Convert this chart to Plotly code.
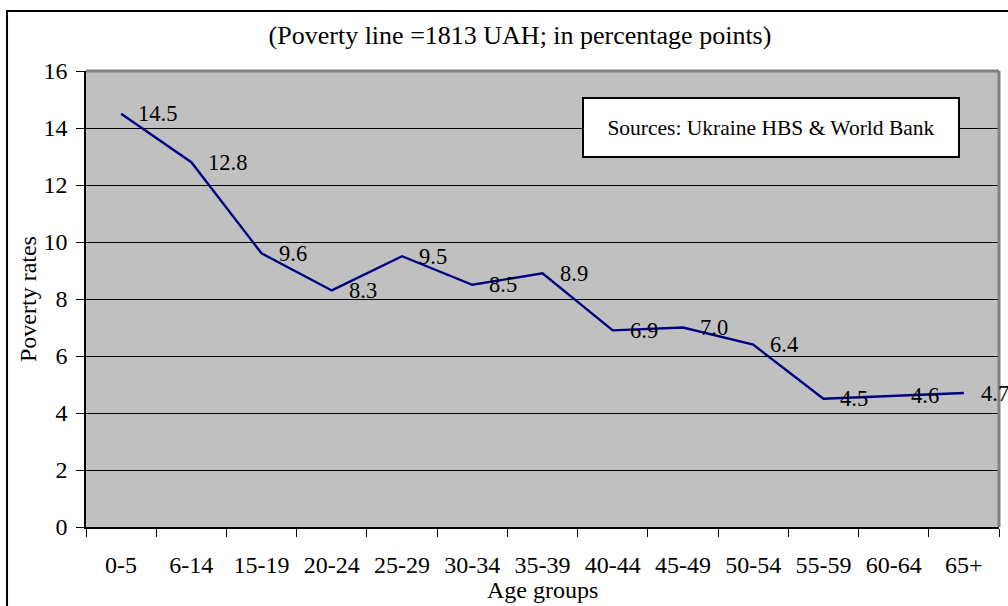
import plotly.graph_objects as go

age_groups = ["0-5", "6-14", "15-19", "20-24", "25-29", "30-34", "35-39",
              "40-44", "45-49", "50-54", "55-59", "60-64", "65+"]
poverty_rates = [14.5, 12.8, 9.6, 8.3, 9.5, 8.5, 8.9, 6.9, 7.0, 6.4, 4.5, 4.6, 4.7]

FONT = "Liberation Serif"
FS = 24

fig = go.Figure()

fig.add_trace(
    go.Scatter(
        x=age_groups,
        y=poverty_rates,
        mode="lines",
        line=dict(color="#000080", width=2.4),
        showlegend=False,
        hoverinfo="skip",
    )
)

# value labels, to the right of each point
for g, v in zip(age_groups, poverty_rates):
    fig.add_annotation(
        x=g, y=v, text=f"{v:.1f}", showarrow=False,
        xanchor="left", yanchor="middle", xshift=15,
        font=dict(family=FONT, size=22.5, color="black"),
    )

# sources box
fig.add_annotation(
    xref="paper", yref="paper", x=0.957, y=0.943,
    xanchor="right", yanchor="top",
    text="Sources: Ukraine HBS & World Bank",
    showarrow=False, align="center",
    bgcolor="white", bordercolor="black", borderwidth=2,
    borderpad=0, width=374, height=57, valign="middle",
    font=dict(family=FONT, size=21.5, color="black"),
)

# axis titles
fig.add_annotation(
    xref="paper", yref="paper", x=-0.0635, y=0.5,
    xanchor="center", yanchor="middle", textangle=-90,
    text="Poverty rates", showarrow=False,
    font=dict(family=FONT, size=FS, color="black"),
)
fig.add_annotation(
    xref="paper", yref="paper", x=0.5, y=-0.138,
    xanchor="center", yanchor="middle",
    text="Age groups", showarrow=False,
    font=dict(family=FONT, size=FS, color="black"),
)

# outer chart frame (left and top edges)
fig.add_shape(
    type="rect", xref="paper", yref="paper",
    x0=-0.0865, x1=1.02, y0=-0.2, y1=1.1316,
    line=dict(color="black", width=2), layer="below",
)

fig.update_layout(
    width=1008, height=606,
    paper_bgcolor="white",
    plot_bgcolor="#c0c0c0",
    margin=dict(l=86, r=9, t=71, b=79),
    font=dict(family=FONT, size=FS, color="black"),
    title=dict(
        text="(Poverty line =1813 UAH; in percentage points)",
        x=520 / 1008, xref="container", xanchor="center",
        y=1 - 35 / 606, yref="container", yanchor="middle",
        font=dict(family=FONT, size=26),
    ),
    xaxis=dict(
        type="category",
        range=[-0.5, len(age_groups) - 0.5],
        automargin=False,
        tickson="boundaries",
        ticks="outside", ticklen=8, tickcolor="black",
        ticklabelstandoff=15,
        showgrid=False, zeroline=False,
        showline=True, linecolor="black", linewidth=1.5,
        tickfont=dict(size=FS),
    ),
    yaxis=dict(
        automargin=False,
        range=[0, 16], dtick=2,
        ticks="outside", ticklen=8, tickcolor="black",
        ticklabelstandoff=4,
        showgrid=True, gridcolor="black", gridwidth=1,
        zeroline=False,
        showline=True, linecolor="black", linewidth=1.5,
        tickfont=dict(size=FS),
    ),
)

# grey top/right edges of the plot area
fig.add_shape(type="line", xref="paper", yref="paper", x0=0, x1=1, y0=1, y1=1,
              line=dict(color="#808080", width=3))
fig.add_shape(type="line", xref="paper", yref="paper", x0=1, x1=1, y0=0, y1=1,
              line=dict(color="#808080", width=3))

fig.write_html("out.html", config={"displayModeBar": False},
               post_script="document.body.style.margin='0';")
